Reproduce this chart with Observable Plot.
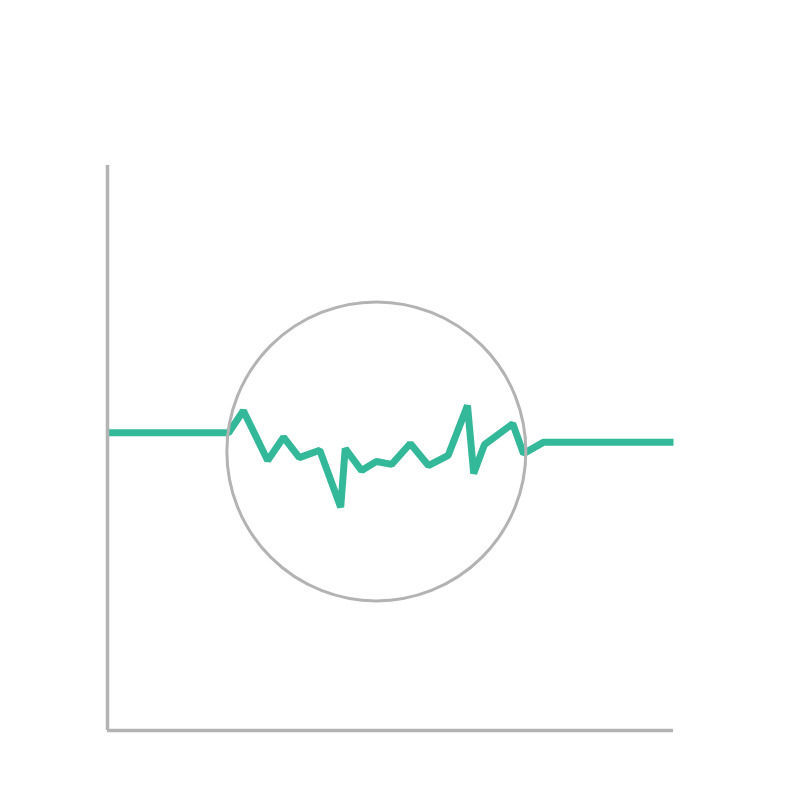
<!DOCTYPE html>
<html>
<head>
<meta charset="utf-8">
<script src="https://cdn.jsdelivr.net/npm/d3@7"></script>
<script src="https://cdn.jsdelivr.net/npm/@observablehq/plot@0.6"></script>
<style>
  html, body { margin: 0; padding: 0; background: #fff; }
</style>
</head>
<body>
<div id="chart"></div>
<script>
const xs = [0, 21.4, 24.0, 28.3, 31.1, 33.9, 37.5, 41.2, 42.0, 44.9, 47.5, 50.2, 53.5, 56.7, 60.2, 63.6, 64.7, 66.6, 71.6, 73.5, 77.0, 100];
const ys = [52.7, 52.7, 56.6, 47.8, 51.9, 48.3, 49.6, 39.5, 49.9, 46.0, 47.6, 47.1, 50.8, 46.9, 48.7, 57.5, 45.5, 50.6, 54.3, 49.0, 51.0, 51.0];
const circleCenter = [{x: 47.5, y: 49.4}];

const data = xs.map((x, i) => ({x, y: ys[i]}));

const chart = Plot.plot({
  width: 800,
  height: 800,
  marginLeft: 107,
  marginRight: 127,
  marginTop: 165,
  marginBottom: 70,
  x: {domain: [0, 100], axis: null},
  y: {domain: [0, 100], axis: null},
  marks: [
    Plot.line(data, {x: "x", y: "y", stroke: "#33b99a", strokeWidth: 7, strokeLinejoin: "miter", strokeLinecap: "butt"}),
    Plot.dot(circleCenter, {x: "x", y: "y", r: 149.5, stroke: "#b3b3b3", strokeWidth: 3, fill: "none"}),
    Plot.ruleX([0], {stroke: "#b3b3b3", strokeWidth: 3.5}),
    Plot.ruleY([0], {stroke: "#b3b3b3", strokeWidth: 3.5})
  ]
});
document.getElementById("chart").appendChild(chart);
</script>
</body>
</html>
